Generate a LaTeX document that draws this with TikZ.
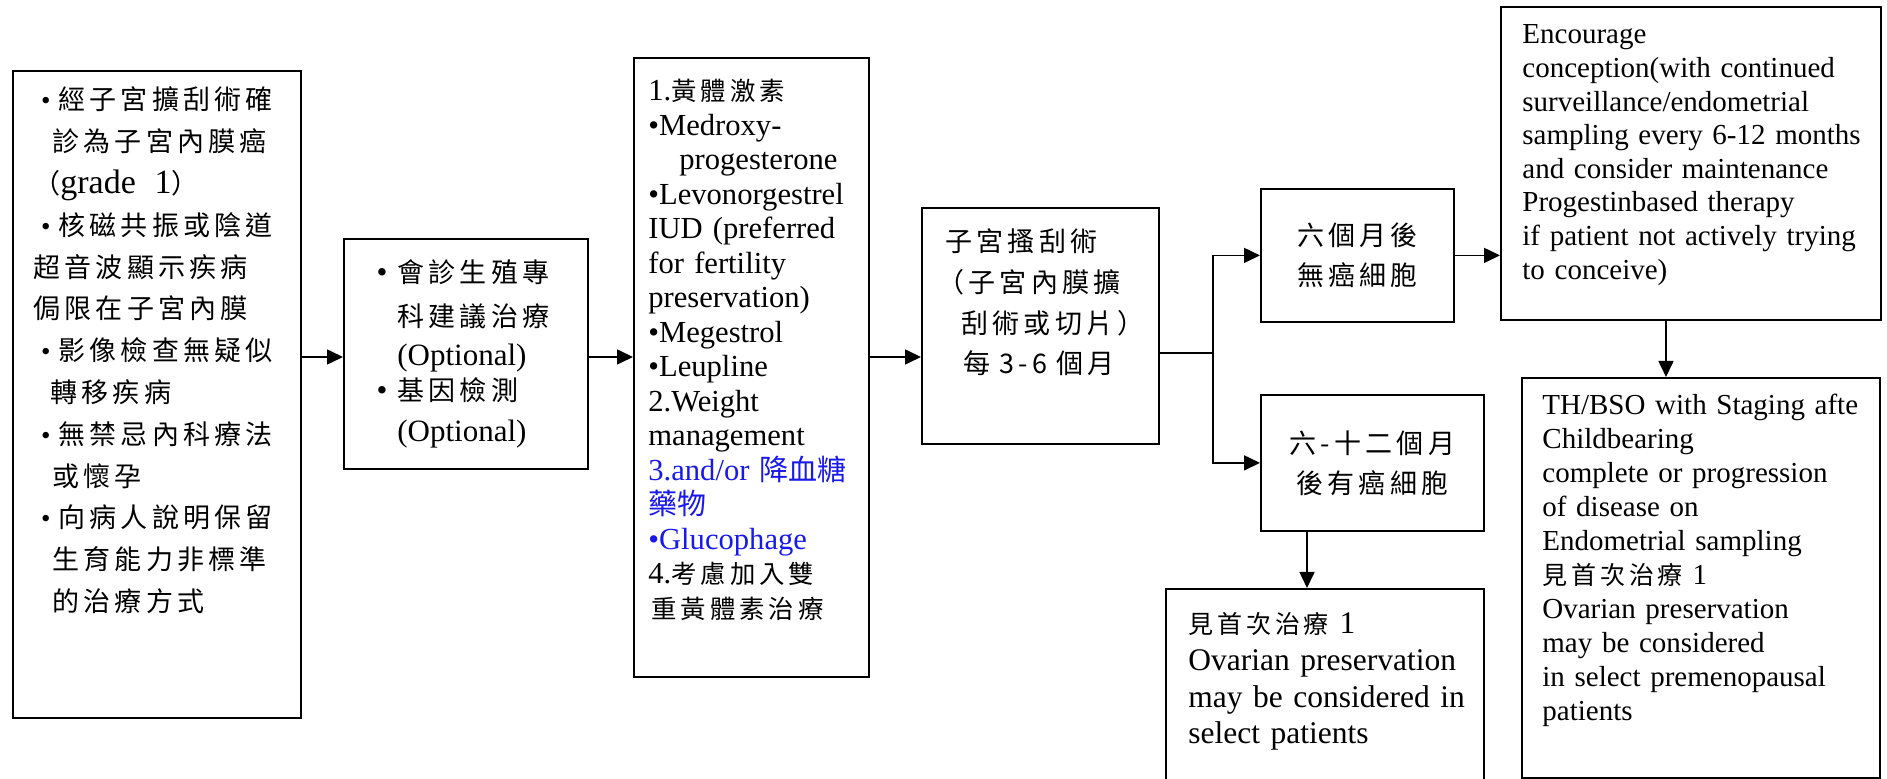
\documentclass[tikz,border=0pt]{standalone}
\usepackage{fontspec}
\setmainfont{Liberation Serif}
\newfontfamily\cjk[LetterSpace=15.6]{Noto Sans CJK TC}
\newfontfamily\cjkn{Noto Sans CJK TC}
\usetikzlibrary{arrows.meta}
\definecolor{bluetxt}{RGB}{25,25,235}
\newcommand\cjkt[2]{{\cjk\fontsize{#1}{\the\baselineskip}\selectfont#2}}
\newcommand\cjkb[2]{{\cjkn\fontsize{#1}{\the\baselineskip}\selectfont#2}}
\newcommand\bul{\makebox[12.5pt][c]{\rmfamily •}}
\newcommand\hbul{\leavevmode\llap{•\hspace{5pt}}}
\begin{document}
\begin{tikzpicture}[x=0.5pt,y=-0.5pt,
  box/.style={draw, line width=0.9pt, inner sep=0pt, anchor=north west},
  txt/.style={inner sep=0pt, anchor=base west, align=left, text width=#1},
  ctxt/.style={align=center, font=\cjk\fontsize{13.5pt}{20pt}\selectfont},
  arr/.style={line width=0.8pt, -{Triangle[length=8pt,width=7.5pt]}},
  ln/.style={line width=0.8pt}]
\useasboundingbox (0,0) rectangle (1887,779);
\fill[white] (0,0) rectangle (1887,779);
% boxes
\node[box, minimum width=144pt, minimum height=323.5pt] (b1) at (12,70) {};
\node[box, minimum width=122pt, minimum height=115pt] (b2) at (343,238) {};
\node[box, minimum width=117.5pt, minimum height=309.5pt] (b3) at (633,57) {};
\node[box, minimum width=118.5pt, minimum height=118pt] (b4) at (921,207) {};
\node[box, ctxt, minimum width=96.5pt, minimum height=66.5pt] (b5) at (1260,188) {六個月後\\無癌細胞};
\node[box, ctxt, minimum width=111.5pt, minimum height=68pt] (b6) at (1260,394) {六-十二個月\\後有癌細胞};
\node[box, minimum width=159pt, minimum height=106pt] (b7) at (1165,588) {};
\node[box, minimum width=190pt, minimum height=156.5pt] (b8) at (1500,6) {};
\node[box, minimum width=179pt, minimum height=200pt] (b9) at (1521,377) {};
% texts
\node[txt=140pt, font=\cjk\fontsize{13.5pt}{20.9pt}\selectfont] (t1) at (33,110) {%
\bul 經子宮擴刮術確\\
\hspace*{9.5pt}診為子宮內膜癌\\
（{\rmfamily\fontsize{17pt}{20.9pt}\selectfont grade\hspace{0.55em}1}）\\
\bul 核磁共振或陰道\\
超音波顯示疾病\\
侷限在子宮內膜\\
\bul 影像檢查無疑似\\
\hspace*{8.5pt}轉移疾病\\
\bul 無禁忌內科療法\\
\hspace*{9.5pt}或懷孕\\
\bul 向病人說明保留\\
\hspace*{9.5pt}生育能力非標準\\
\hspace*{9.5pt}的治療方式};
\node[txt=115pt, font=\fontsize{15.5pt}{16pt}\selectfont] (t2) at (397,283) {%
\hbul\cjkt{13.5pt}{會診生殖專}\\[6pt]
\cjkt{13.5pt}{科建議治療}\\[3.5pt]
(Optional)\\[1.5pt]
\hbul\cjkt{13.5pt}{基因檢測}\\[4.5pt]
(Optional)};
\node[txt=125pt, font=\fontsize{15.3pt}{17.25pt}\selectfont] (t3) at (648,101) {%
1.\cjkt{12.7pt}{黃體激素}\\
•Medroxy-\\
\hspace*{15.5pt}progesterone\\
•Levonorgestrel\\
IUD (preferred\\
for fertility\\
preservation)\\
•Megestrol\\
•Leupline\\
2.Weight\\
management\\
{\color{bluetxt}3.and/or \cjkb{14.5pt}{降血糖}}\\
{\color{bluetxt}\cjkb{14.5pt}{藥物}}\\
{\color{bluetxt}•Glucophage}\\
4.\cjkt{12.7pt}{考慮加入雙}\\
\hspace*{1.5pt}\cjkt{12.7pt}{重黃體素治療}};
\node[txt=115pt, font=\cjk\fontsize{13.5pt}{20.3pt}\selectfont] (t4) at (945,252) {%
子宮搔刮術\\
\hspace*{-4pt}（子宮內膜擴\\
\hspace*{8pt}刮術或切片）\\
\hspace*{9pt}每 3-6 個月};
\node[txt=150pt, font=\fontsize{15.75pt}{18.3pt}\selectfont] (t7) at (1188,634) {%
\cjkt{12.5pt}{見首次治療} 1\\
Ovarian preservation\\
may be considered in\\
select patients};
\node[txt=180pt, font=\fontsize{14.5pt}{16.8pt}\selectfont] (t8) at (1522,44) {%
Encourage\\
conception(with continued\\
surveillance/endometrial\\
sampling every 6-12 months\\
and consider maintenance\\
Progestinbased therapy\\
if patient not actively trying\\
to conceive)};
\node[txt=170pt, font=\fontsize{14.5pt}{17pt}\selectfont] (t9) at (1542,415) {%
TH/BSO with Staging afte\\
Childbearing\\
complete or progression\\
of disease on\\
Endometrial sampling\\
\cjkt{12.5pt}{見首次治療} 1\\
Ovarian preservation\\
may be considered\\
in select premenopausal\\
patients};
% connectors
\coordinate (m) at (0,357);
\draw[arr] (b1.east |- m) -- (b2.west |- m);
\draw[arr] (b2.east |- m) -- (b3.west |- m);
\draw[arr] (b3.east |- m) -- (b4.west |- m);
\coordinate (j) at (1213,353);
\draw[ln] (b4.east |- j) -- (j);
\draw[ln, line cap=rect] (j |- b5.west) -- (j |- b6.west);
\draw[arr] (j |- b5.west) -- (b5.west);
\draw[arr] (j |- b6.west) -- (b6.west);
\draw[arr] (b5.east) -- (b8.west |- b5.east);
\coordinate (c8) at (1666,0);
\draw[arr] (b8.south -| c8) -- (b9.north -| c8);
\coordinate (c6) at (1307,0);
\draw[arr] (b6.south -| c6) -- (b7.north -| c6);
\end{tikzpicture}
\end{document}
